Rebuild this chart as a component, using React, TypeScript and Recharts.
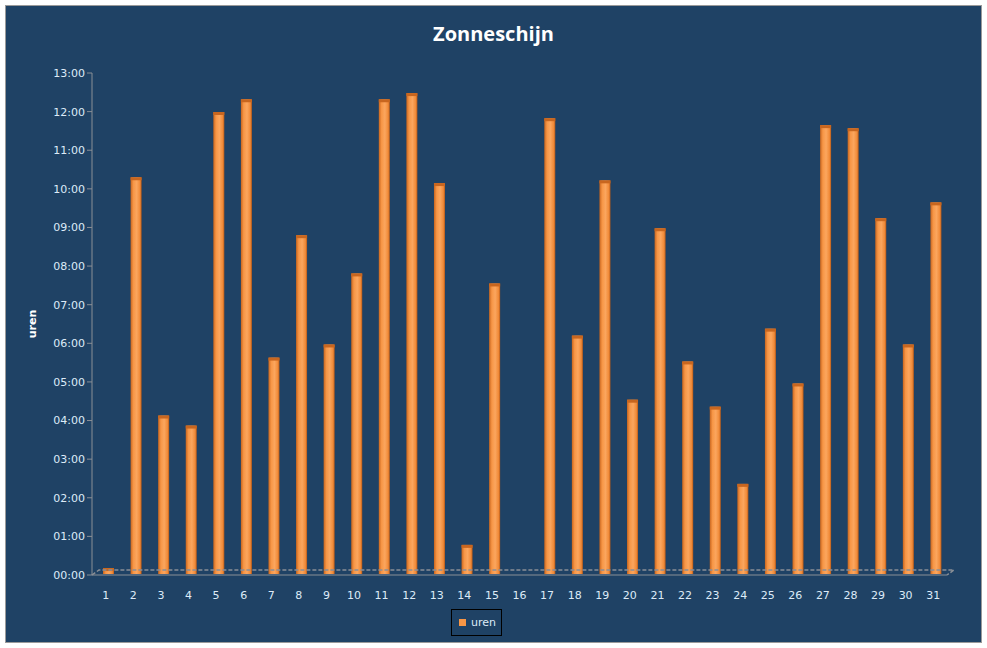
import React from "react";
import { Bar, BarChart, XAxis, YAxis, Legend, ReferenceLine } from "recharts";

// dag van de maand
const days = [
  "1", "2", "3", "4", "5", "6", "7", "8", "9", "10", "11", "12", "13", "14", "15", "16",
  "17", "18", "19", "20", "21", "22", "23", "24", "25", "26", "27", "28", "29", "30", "31",
];
// zonneschijn in uren
const uren = [
  0.18, 10.3, 4.13, 3.87, 11.99, 12.32, 5.63, 8.8, 5.97, 7.81, 12.32, 12.48, 10.15, 0.78, 7.55, 0,
  11.83, 6.2, 10.22, 4.54, 8.98, 5.53, 4.36, 2.36, 6.38, 4.96, 11.65, 11.57, 9.24, 5.97, 9.65,
];
const yTicks = [0, 1, 2, 3, 4, 5, 6, 7, 8, 9, 10, 11, 12, 13];

const data = days.map((d, i) => ({ dag: d, uren: uren[i] }));

const BG = "#1F4265";
const AXIS = "#8A8F96";
const TXT = "#DDEBF8";
const FONT = "'DejaVu Sans', sans-serif";

const fmtHour = (v: number) => `${String(v).padStart(2, "0")}:00`;

function Cylinder(props: any) {
  const { x, y, width, height } = props;
  if (height == null || height <= 0) return null;
  const cap = Math.min(3, height);
  return (
    <g>
      <rect x={x + 3} y={y} width={width} height={height - 1} fill="url(#barGrad)" />
      <rect x={x + 3} y={y} width={width} height={cap} fill="#C8661F" />
    </g>
  );
}

function Floor(props: any) {
  const { x1, x2, y1 } = props;
  if (x1 == null) return null;
  const d = 7;
  return (
    <path
      d={`M${x1},${y1} L${x1 + d},${y1 - 5} L${x2 + d},${y1 - 5} L${x2},${y1}`}
      fill="none"
      stroke={AXIS}
      strokeWidth={1.5}
      strokeDasharray="4 2"
    />
  );
}

function LegendBox() {
  return (
    <div style={{ display: "flex", justifyContent: "center" }}>
      <div
        style={{
          border: "1px solid #000",
          padding: "6px 5px 6px 7px",
          display: "flex",
          alignItems: "center",
          gap: 5,
          fontFamily: FONT,
          fontSize: 11,
          color: TXT,
        }}
      >
        <span style={{ width: 7, height: 7, background: "#F79646", display: "inline-block" }} />
        uren
      </div>
    </div>
  );
}

export default function App() {
  return (
    <div
      style={{
        position: "absolute",
        left: 5,
        top: 5,
        width: 977,
        height: 638,
        background: BG,
        border: "1px solid #9A9A9A",
        boxSizing: "border-box",
      }}
    >
      <div
        style={{
          position: "absolute",
          top: 14,
          width: "100%",
          textAlign: "center",
          fontFamily: "'Open Sans', 'Liberation Sans', sans-serif",
          fontWeight: "bold",
          fontSize: 20,
          color: "#FFFFFF",
        }}
      >
        Zonneschijn
      </div>
      <BarChart
        width={975}
        height={636}
        data={data}
        margin={{ top: 67, right: 34, bottom: 10, left: 0 }}
        barCategoryGap={8}
      >
        <defs>
          <linearGradient id="barGrad" x1="0" y1="0" x2="1" y2="0">
            <stop offset="0%" stopColor="#C8661F" />
            <stop offset="25%" stopColor="#F79646" />
            <stop offset="55%" stopColor="#FBA65E" />
            <stop offset="85%" stopColor="#F08A38" />
            <stop offset="100%" stopColor="#B85A18" />
          </linearGradient>
        </defs>
        <XAxis
          dataKey="dag"
          stroke={AXIS}
          tickLine={false}
          tick={{ fill: TXT, fontSize: 11, fontFamily: FONT }}
          tickMargin={10}
          height={30}
          interval={0}
        />
        <YAxis
          domain={[0, 13]}
          ticks={yTicks}
          tickFormatter={fmtHour}
          stroke={AXIS}
          tickSize={5}
          width={86}
          tick={{ fill: TXT, fontSize: 11, fontFamily: FONT }}
          label={{
            value: "uren",
            angle: -90,
            position: "insideLeft",
            offset: 26,
            style: { fill: "#FFFFFF", fontSize: 11, fontWeight: "bold", fontFamily: FONT, textAnchor: "middle" },
          }}
        />
        <ReferenceLine y={0} shape={<Floor />} ifOverflow="visible" />
        <Legend verticalAlign="bottom" content={<LegendBox />} wrapperStyle={{ bottom: 6 }} />
        <Bar dataKey="uren" barSize={11} shape={<Cylinder />} isAnimationActive={false} />
      </BarChart>
    </div>
  );
}
